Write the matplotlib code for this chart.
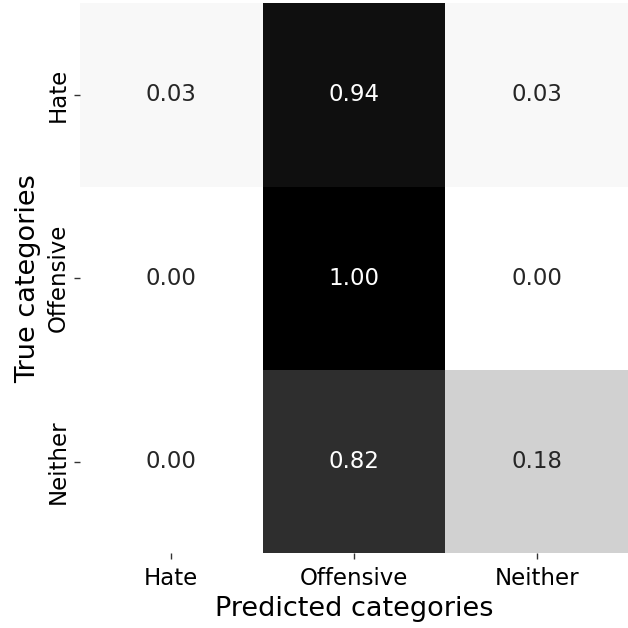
import matplotlib
matplotlib.use("Agg")
import matplotlib.pyplot as plt
import numpy as np
import seaborn as sns

# normalised confusion matrix (rows = true, cols = predicted)
categories = ["Hate", "Offensive", "Neither"]
row_hate = [0.03, 0.94, 0.03]
row_offensive = [0.00, 1.00, 0.00]
row_neither = [0.00, 0.82, 0.18]

cm = np.array([row_hate, row_offensive, row_neither])

fig = plt.figure(figsize=(6.28, 6.28), dpi=100)
ax = fig.add_axes([0.127, 0.119, 0.873, 0.876])

sns.heatmap(cm, annot=True, fmt=".2f", cmap="gray_r", vmin=0, vmax=1,
            cbar=False, square=False, ax=ax,
            xticklabels=categories, yticklabels=categories,
            annot_kws={"size": 16.5})

ax.tick_params(axis="both", labelsize=16.5, length=4, width=1, color="#333333")
ax.tick_params(axis="x", pad=6)
plt.setp(ax.get_yticklabels(), rotation=90, va="center")
plt.setp(ax.get_xticklabels(), rotation=0)
ax.set_xlabel("Predicted categories", fontsize=19.5, labelpad=4)
ax.set_ylabel("True categories", fontsize=19.5, labelpad=4)

fig.savefig("out.png", dpi=100)
